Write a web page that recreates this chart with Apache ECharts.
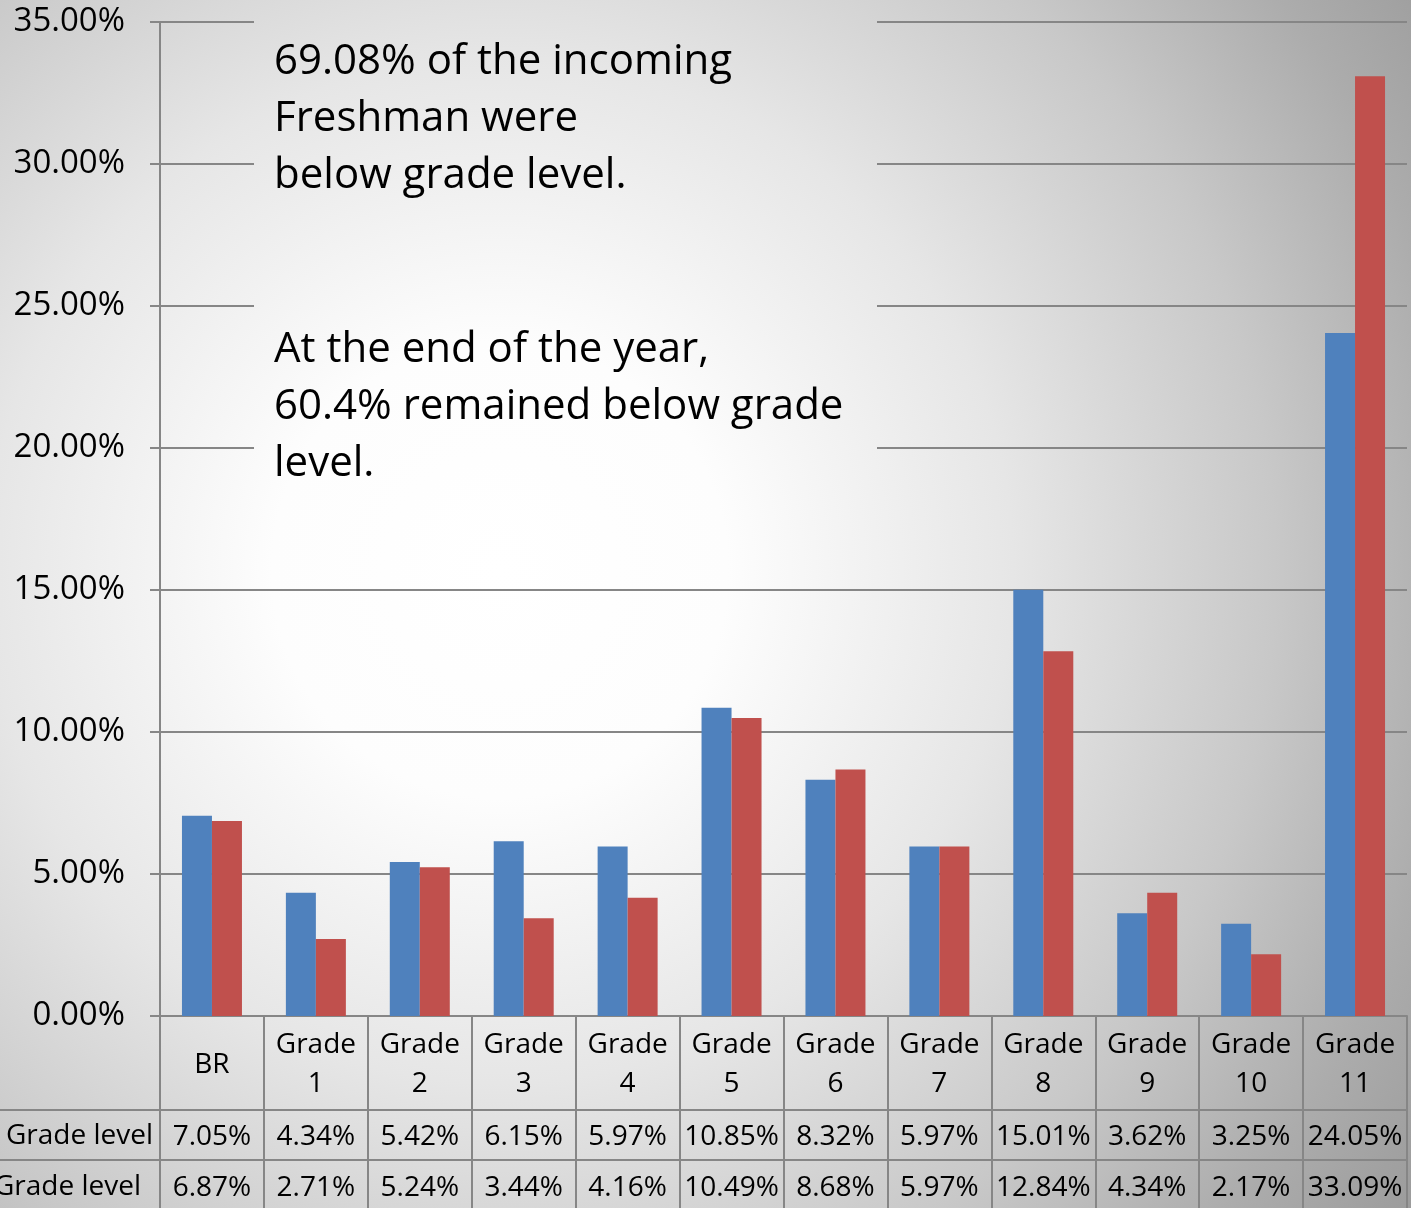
<!DOCTYPE html>
<html>
<head>
<meta charset="utf-8">
<script src="https://cdn.jsdelivr.net/npm/echarts@6/dist/echarts.min.js"></script>
<style>
  html, body { margin: 0; padding: 0; }
  #chart { width: 1411px; height: 1208px; }
</style>
</head>
<body>
<div id="chart"></div>
<script>
// data
var categories = ['BR', 'Grade\n1', 'Grade\n2', 'Grade\n3', 'Grade\n4', 'Grade\n5', 'Grade\n6', 'Grade\n7', 'Grade\n8', 'Grade\n9', 'Grade\n10', 'Grade\n11'];
var beginValues = [7.05, 4.34, 5.42, 6.15, 5.97, 10.85, 8.32, 5.97, 15.01, 3.62, 3.25, 24.05];
var endValues = [6.87, 2.71, 5.24, 3.44, 4.16, 10.49, 8.68, 5.97, 12.84, 4.34, 2.17, 33.09];
var rowLabels = ['Grade level', 'Grade level'];
var noteTop = '69.08% of the incoming\nFreshman were\nbelow grade level.';
var noteBottom = 'At the end of the year,\n60.4% remained below grade\nlevel.';

var FONT = '"Open Sans", "Noto Sans", sans-serif';
var GRID_COLOR = '#868686';

// same global gradient for the page and the text box, so the box looks see-through
function bgGradient() {
    return {
        type: 'radial', x: 500, y: 570, r: 1140, global: true,
        colorStops: [
            { offset: 0, color: '#ffffff' },
            { offset: 0.2, color: '#fdfdfd' },
            { offset: 0.45, color: '#e6e6e6' },
            { offset: 0.68, color: '#c8c8c8' },
            { offset: 0.85, color: '#acacac' },
            { offset: 1, color: '#999999' }
        ]
    };
}

var myChart = echarts.init(document.getElementById('chart'));

function tableAxis(values, margin) {
    return {
        type: 'category',
        data: categories,
        position: 'bottom',
        offset: 0,
        axisLine: { show: false },
        axisTick: { show: false },
        splitLine: { show: false },
        axisLabel: {
            interval: 0,
            margin: margin,
            verticalAlign: 'middle',
            color: '#000',
            fontFamily: FONT,
            fontSize: 28,
            formatter: function(val, idx) {
                return values[idx].toFixed(2) + '%';
            }
        }
    };
}

var option = {
    animation: false,
    grid: { left: 160, right: 4, top: 22, bottom: 192, containLabel: false },
    graphic: [
        { type: 'rect', z: -10, shape: { x: 0, y: 0, width: 1411, height: 1208 }, style: { fill: bgGradient() } },
        // annotation box hides the grid lines behind it
        { type: 'rect', z: 5, shape: { x: 254, y: 10, width: 623, height: 482 }, style: { fill: bgGradient() } },
        { type: 'text', z: 6, x: 274, y: 34, style: { text: noteTop, font: '42px ' + FONT, fill: '#000', lineHeight: 57 } },
        { type: 'text', z: 6, x: 274, y: 322, style: { text: noteBottom, font: '42px ' + FONT, fill: '#000', lineHeight: 57 } },
        // table row borders
        { type: 'line', z: 6, shape: { x1: 0, y1: 1110, x2: 1407, y2: 1110 }, style: { stroke: GRID_COLOR, lineWidth: 2 } },
        { type: 'line', z: 6, shape: { x1: 0, y1: 1160, x2: 1407, y2: 1160 }, style: { stroke: GRID_COLOR, lineWidth: 2 } },
        { type: 'text', z: 6, x: 153, y: 1136, style: { text: rowLabels[0], font: '28px ' + FONT, fill: '#000', align: 'right', verticalAlign: 'middle' } },
        { type: 'text', z: 6, x: 141, y: 1187, style: { text: rowLabels[1], font: '28px ' + FONT, fill: '#000', align: 'right', verticalAlign: 'middle' } }
    ],
    xAxis: [{
        type: 'category',
        data: categories,
        position: 'bottom',
        axisLine: { show: true, lineStyle: { color: GRID_COLOR, width: 2 } },
        axisTick: { show: true, interval: 0, length: 192, lineStyle: { color: GRID_COLOR, width: 2 } },
        axisLabel: {
            interval: 0,
            margin: 49,
            verticalAlign: 'middle',
            color: '#000',
            fontFamily: FONT,
            fontSize: 28,
            lineHeight: 39
        }
    },
        tableAxis(beginValues, 121),
        tableAxis(endValues, 172)
    ],
    yAxis: {
        type: 'value',
        min: 0,
        max: 35,
        interval: 5,
        axisLine: { show: true, lineStyle: { color: GRID_COLOR, width: 2 } },
        axisTick: { show: true, length: 10, lineStyle: { color: GRID_COLOR, width: 2 } },
        splitLine: { show: true, lineStyle: { color: GRID_COLOR, width: 2 } },
        axisLabel: {
            margin: 35,
            color: '#000',
            fontFamily: FONT,
            fontSize: 33,
            formatter: function(v) { return v.toFixed(2) + '%'; }
        }
    },
    series: [{
        name: 'Beginning Grade level',
        type: 'bar',
        data: beginValues,
        barWidth: 30,
        barGap: 0,
        itemStyle: { color: '#4f81bd' }
    }, {
        name: 'End Grade level',
        type: 'bar',
        data: endValues,
        barWidth: 30,
        barGap: 0,
        itemStyle: { color: '#c0504d' }
    }]
};

myChart.setOption(option);
</script>
</body>
</html>
